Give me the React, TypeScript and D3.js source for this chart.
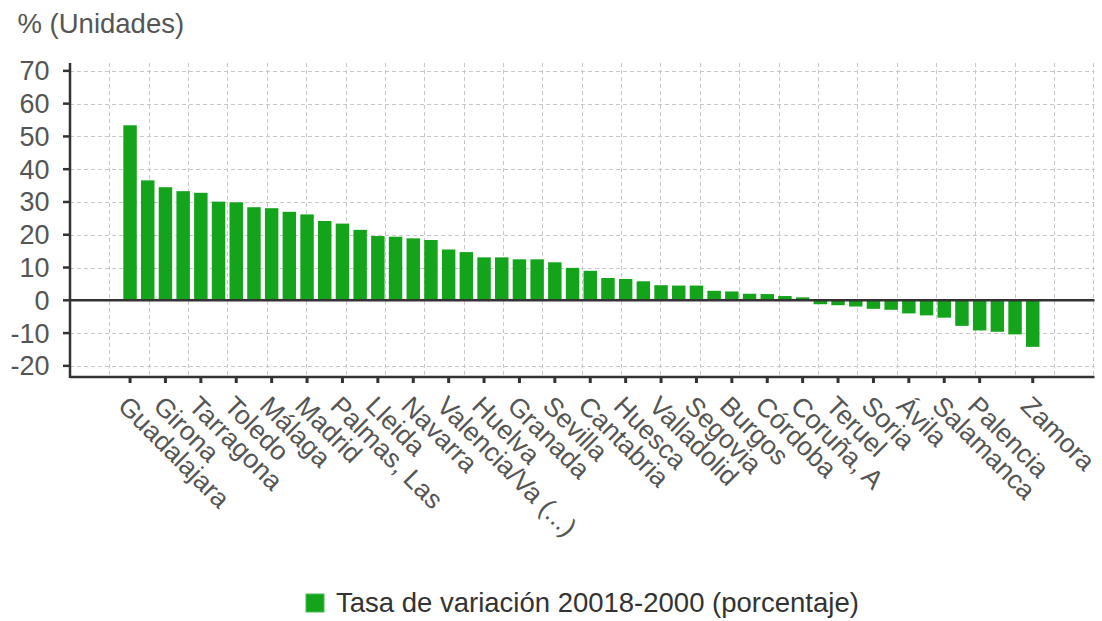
import React from 'react';
import * as d3 from 'd3';

const categories: string[] = [
  'Guadalajara', 'Balears, Illes', 'Girona', 'Almería', 'Tarragona', 'Alicante/Alacant', 'Toledo', 'Murcia',
  'Málaga', 'Castellón/Castelló', 'Madrid', 'Santa Cruz de Tenerife', 'Palmas, Las', 'Melilla', 'Lleida',
  'Rioja, La', 'Navarra', 'Barcelona', 'Valencia/Va (...)', 'Araba/Álava', 'Huelva', 'Cádiz', 'Granada',
  'Zaragoza', 'Sevilla', 'Albacete', 'Cantabria', 'Ceuta', 'Huesca', 'Pontevedra', 'Valladolid', 'Gipuzkoa',
  'Segovia', 'Bizkaia', 'Burgos', 'Ciudad Real', 'Córdoba', 'Cuenca', 'Coruña, A', 'Badajoz', 'Teruel',
  'Cáceres', 'Soria', 'Jaén', 'Ávila', 'Asturias', 'Salamanca', 'León', 'Palencia', 'Lugo', 'Ourense', 'Zamora',
];

const values: number[] = [
  53.4, 36.6, 34.5, 33.3, 32.8, 30.1, 29.9, 28.4, 28.1, 27.0, 26.2, 24.2, 23.4, 21.5, 19.6, 19.4, 18.9, 18.4,
  15.5, 14.7, 13.1, 13.1, 12.5, 12.5, 11.6, 9.9, 9.0, 6.8, 6.5, 5.8, 4.6, 4.5, 4.5, 2.9, 2.7, 2.0, 1.9, 1.3,
  0.9, -1.2, -1.5, -1.9, -2.6, -2.9, -4.0, -4.6, -5.3, -7.8, -9.2, -9.6, -10.4, -14.2,
];

const tickCategories: string[] = [
  'Guadalajara', 'Girona', 'Tarragona', 'Toledo', 'Málaga', 'Madrid', 'Palmas, Las', 'Lleida', 'Navarra',
  'Valencia/Va (...)', 'Huelva', 'Granada', 'Sevilla', 'Cantabria', 'Huesca', 'Valladolid', 'Segovia',
  'Burgos', 'Córdoba', 'Coruña, A', 'Teruel', 'Soria', 'Ávila', 'Salamanca', 'Palencia', 'Zamora',
];

const yTicks: number[] = [-20, -10, 0, 10, 20, 30, 40, 50, 60, 70];
const yTitle = '% (Unidades)';
const seriesName = 'Tasa de variación 20018-2000 (porcentaje)';

const W = 1102;
const H = 621;
const FONT = '"Liberation Sans", Arial, sans-serif';
const GREEN = '#13a41b';
const AXIS = '#333333';
const GRID = '#c8c8c8';
const TEXT = '#555555';

export default function App() {
  const plotLeft = 70;
  const plotRight = 1094.5;
  const plotTop = 63;
  const plotBottom = 377;

  const y = d3.scaleLinear().domain([-23.4, 72.4]).range([plotBottom, plotTop]);
  const x = d3
    .scaleBand<string>()
    .domain(categories)
    .range([121.2, 1041.6])
    .paddingInner(0.24)
    .paddingOuter(0.12);
  const gridX = d3.scaleLinear().domain([0, 26]).range([plotLeft, 1093.4]);
  const vGrid = d3.range(1, 27);

  return (
    <svg
      width={W}
      height={H}
      viewBox={`0 0 ${W} ${H}`}
      style={{ position: 'absolute', left: 0, top: 0, background: '#fff' }}
      fontFamily={FONT}
    >
      <rect x={0} y={0} width={W} height={H} fill="#fff" />
      <text x={17.5} y={33} fontSize={27.5} fill={TEXT}>
        {yTitle}
      </text>

      {/* grid */}
      <g stroke={GRID} strokeWidth={1} strokeDasharray="4,3">
        {yTicks.map((t) => (
          <line key={'h' + t} x1={plotLeft} x2={plotRight} y1={Math.round(y(t)) + 0.5} y2={Math.round(y(t)) + 0.5} />
        ))}
        {vGrid.map((k) => (
          <line key={'v' + k} x1={Math.round(gridX(k)) + 0.5} x2={Math.round(gridX(k)) + 0.5} y1={plotTop} y2={plotBottom} />
        ))}
      </g>

      {/* bars */}
      <g fill={GREEN}>
        {categories.map((c, i) => {
          const v = values[i];
          const y0 = y(Math.max(0, v));
          const y1 = y(Math.min(0, v));
          return <rect key={c} x={x(c)} y={y0} width={x.bandwidth()} height={Math.max(0, y1 - y0)} />;
        })}
      </g>

      {/* zero line */}
      <line x1={plotLeft} x2={plotRight} y1={y(0)} y2={y(0)} stroke={AXIS} strokeWidth={2.5} />

      {/* y axis */}
      <line x1={plotLeft} x2={plotLeft} y1={plotTop} y2={plotBottom + 1} stroke={AXIS} strokeWidth={2.5} />
      {yTicks.map((t) => (
        <g key={'yt' + t}>
          <line x1={plotLeft - 7} x2={plotLeft} y1={y(t)} y2={y(t)} stroke={AXIS} strokeWidth={2.5} />
          <text x={49.5} y={y(t)} dy="0.35em" textAnchor="end" fontSize={27} fill={TEXT}>
            {t}
          </text>
        </g>
      ))}

      {/* x axis */}
      <line x1={plotLeft} x2={plotRight} y1={plotBottom} y2={plotBottom} stroke={AXIS} strokeWidth={2.5} />
      {tickCategories.map((c) => {
        const cx = (x(c) as number) + x.bandwidth() / 2;
        return (
          <g key={'xt' + c}>
            <line x1={cx} x2={cx} y1={plotBottom} y2={plotBottom + 6} stroke={AXIS} strokeWidth={3} />
            <text
              transform={`translate(${cx},${plotBottom + 17}) rotate(45)`}
              dy="0.72em"
              textAnchor="start"
              fontSize={26.5}
              fill={TEXT}
            >
              {c}
            </text>
          </g>
        );
      })}

      {/* legend */}
      <rect x={306} y={594} width={18} height={18} fill={GREEN} stroke="#4cbb52" strokeWidth={1} />
      <text x={336} y={612} fontSize={27.5} fill="#333">
        {seriesName}
      </text>
    </svg>
  );
}
